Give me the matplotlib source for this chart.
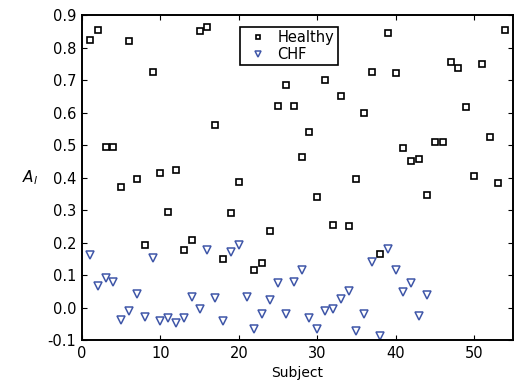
import matplotlib
matplotlib.use("Agg")
import matplotlib.pyplot as plt
import numpy as np

plt.rcParams['font.family'] = ['DejaVu Sans']
plt.rcParams['axes.unicode_minus'] = False

healthy_subjects = [1, 2, 3, 4, 5, 6, 7, 8, 9, 10, 11, 12, 13, 14, 15, 16, 17, 18, 19, 20,
                    22, 23, 24, 25, 26, 27, 28, 29, 30, 31, 32, 33, 34, 35, 36, 37, 38, 39,
                    40, 41, 42, 43, 44, 45, 46, 47, 48, 49, 50, 51, 52, 53, 54]
healthy_values = [0.822, 0.855, 0.493, 0.493, 0.371, 0.819, 0.397, 0.191, 0.725, 0.414,
                  0.295, 0.423, 0.178, 0.208, 0.852, 0.865, 0.562, 0.150, 0.291, 0.385,
                  0.114, 0.137, 0.237, 0.619, 0.686, 0.619, 0.462, 0.539, 0.339, 0.699,
                  0.254, 0.650, 0.250, 0.397, 0.600, 0.725, 0.166, 0.845, 0.722, 0.491,
                  0.450, 0.458, 0.347, 0.508, 0.508, 0.755, 0.737, 0.617, 0.405, 0.749,
                  0.525, 0.382, 0.853]

chf_subjects = list(range(1, 45))
chf_values = [0.162, 0.065, 0.090, 0.078, -0.038, -0.010, 0.041, -0.028, 0.152, -0.043,
              -0.032, -0.049, -0.032, 0.033, -0.006, 0.176, 0.030, -0.043, 0.172, 0.191,
              0.032, -0.065, -0.021, 0.023, 0.077, -0.021, 0.080, 0.114, -0.032, -0.065,
              -0.010, -0.004, 0.027, 0.052, -0.071, -0.020, 0.140, -0.087, 0.180, 0.117,
              0.048, 0.074, -0.025, 0.039]

x_ticks = [0, 10, 20, 30, 40, 50]
y_ticks = [-0.1, 0.0, 0.1, 0.2, 0.3, 0.4, 0.5, 0.6, 0.7, 0.8, 0.9]

fig = plt.figure(figsize=(5.14, 3.88), dpi=100)
ax = fig.add_axes([0.1595, 0.1237, 0.839, 0.8373])

chf_color = '#3f56a8'
ax.plot(healthy_subjects, healthy_values, linestyle='none', marker='s', markersize=4.6,
        markerfacecolor='white', markeredgecolor='black', markeredgewidth=1.2,
        label='Healthy')
ax.plot(chf_subjects, chf_values, linestyle='none', marker='v', markersize=5.6,
        markerfacecolor='white', markeredgecolor=chf_color, markeredgewidth=1.1,
        label='CHF')

ax.set_xlim(0, 55)
ax.set_ylim(-0.1, 0.9)
ax.set_xticks(x_ticks)
ax.set_yticks(y_ticks)
ax.set_yticklabels(['%.1f' % v for v in y_ticks])
ax.tick_params(direction='in', top=True, right=True, length=3.5, width=0.8,
               labelsize=10.5, pad=4)
for s in ax.spines.values():
    s.set_linewidth(1.4)

ax.set_xlabel('Subject', fontsize=10)
ax.set_ylabel(r'$A_l$', fontsize=11, rotation=0, va='center')
ax.yaxis.set_label_coords(-0.12, 0.5)

leg = ax.legend(loc='upper left', bbox_to_anchor=(0.367, 0.965), fontsize=10.5,
                frameon=True, fancybox=False, edgecolor='black', framealpha=1,
                handlelength=2.0, handletextpad=0.3, borderpad=0.25,
                labelspacing=0.1, markerscale=0.75, borderaxespad=0)
leg.get_frame().set_linewidth(1.2)

fig.savefig('out.png', dpi=100)
